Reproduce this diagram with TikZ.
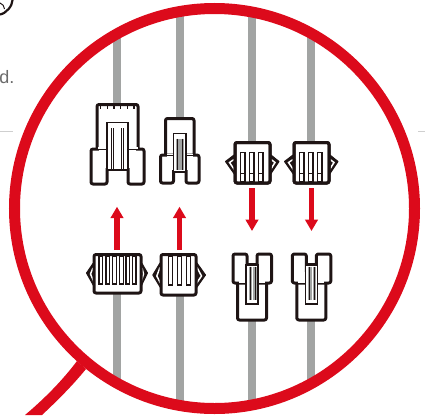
\documentclass[tikz,border=0pt]{standalone}
\usepackage{fontspec}
\setmainfont{Liberation Sans}
\usetikzlibrary{arrows.meta}
\definecolor{ink}{HTML}{1E1414}
\definecolor{redc}{HTML}{DC0A1B}
\definecolor{wire}{HTML}{A2A4A3}
\definecolor{rulec}{HTML}{CFCFCF}
\tikzset{
 wireline/.style={draw=wire,line width=8pt},
 thick ink/.style={draw=ink,line width=3pt,rounded corners=2pt,line join=round},
 conn/.style={thick ink,fill=white},
 thin ink/.style={draw=ink,line width=1.1pt},
 rib/.style={draw=ink,line width=1.1pt,fill=white},
 flow/.style={draw=redc,line width=5.3pt,-{Triangle[length=11.5pt,width=12.5pt]}},
 wing/.style={fill=ink,draw=ink,line width=1pt,line join=round},
 wingin/.style={draw=white,line width=1.5pt},
}
\newcommand{\wingpair}[6]{% left body, right body, left tip, right tip, y top, y tip
 \filldraw[wing] (#1,#5) -- (#3,#6) -- (#1+1,#6+13.5) -- cycle;
 \filldraw[wing] (#2,#5) -- (#4,#6) -- (#2-1,#6+13.5) -- cycle;
 \draw[wingin] (#1,#5+4.5) -- (#3+4,#6+1) -- (#1+1,#6+9);
 \draw[wingin] (#2,#5+4.5) -- (#4-4,#6+1) -- (#2-1,#6+9);
}
\begin{document}
\begin{tikzpicture}[x=1pt,y=-1pt]
\useasboundingbox (0,0) rectangle (425,415);
% page remnants
\draw[rulec,line width=1.1pt] (0,131.7) -- (13,131.7);
\draw[rulec,line width=1.1pt] (418,131.7) -- (425,131.7);
\begin{scope}
\clip (0,0) rectangle (425,415);
\node[anchor=base east,inner sep=0pt,text=black!58,font=\fontsize{18}{18}\selectfont] (txt) at (14.5,83) {d.};
\draw[ink,line width=2.2pt] (0,14.5) .. controls (6,13.5) and (12.5,6) .. (12.5,0);
\draw[ink,line width=1pt] (0,3) .. controls (3,4) and (4,6) .. (4.5,9);
\end{scope}
% wires
\draw[wireline] (117,34) -- (117,110);
\draw[wireline] (117,285) -- (117,383);
\draw[wireline] (180,12) -- (180,125);
\draw[wireline] (180,285) -- (180,405);
\draw[wireline] (252,12) -- (252,150);
\draw[wireline] (252,310) -- (252,405);
\draw[wireline] (311,34) -- (311,150);
\draw[wireline] (311,310) -- (311,383);
% C1 large plug
\filldraw[conn] (97,160) -- (97,104.5) -- (138,104.5) -- (138,160) -- cycle;
\foreach \t in {100.7,107.3,114,120.7,127.3,134} \draw[ink,line width=1.2pt] (\t,105) -- (\t,108.5);
\filldraw[conn] (107,149) -- (91,149) -- (91,184) -- (107,184) -- (107,149);
\filldraw[conn] (128,149) -- (144,149) -- (144,184) -- (128,184) -- (128,149);
\fill[white] (97.5,147) rectangle (137.5,148.5);
\fill[white] (99,150) rectangle (136,168);
\draw[ink,line width=1pt] (98,149) -- (107,149) (128,149) -- (137,149);
\draw[thin ink,fill=white] (107,122.5) rectangle (128,170);
\draw[ink,line width=1pt] (111.7,128) -- (111.7,169) (113.5,128) -- (113.5,169) (121,128) -- (121,169) (123.3,128) -- (123.3,169);
\draw[ink,line width=2.6pt] (107,170) -- (128,170);
% C2 small plug
\filldraw[conn] (165.5,165) -- (165.5,118.5) -- (194,118.5) -- (194,165) -- cycle;
\filldraw[conn] (173.5,155) -- (160.5,155) -- (160.5,183) -- (173.5,183) -- (173.5,155);
\filldraw[conn] (186,155) -- (199,155) -- (199,183) -- (186,183) -- (186,155);
\fill[white] (167,154) rectangle (192.5,170);
\draw[ink,line width=1pt] (167,155) -- (173,155) (186,155) -- (193,155);
\draw[thin ink,fill=white] (173.5,133.5) rectangle (186,172);
\fill[wire] (176,138.5) rectangle (184,170);
\draw[ink,line width=0.8pt] (177.5,138.5) -- (177.5,170) (182.5,138.5) -- (182.5,170);
\draw[ink,line width=2.6pt] (173.5,172) -- (186,172);
% C3, C4
\foreach \dx in {0,59} {
 \begin{scope}[xshift=\dx pt]
 \wingpair{234}{271}{225.5}{279}{155}{161.5}
 \filldraw[conn] (235,142.5) rectangle (270,183);
 \foreach \a/\b in {240.7/245,249.5/254,258.5/263} {
  \draw[rib] (\a,152.5) rectangle (\b,182);
  \draw[ink,line width=0.9pt] (\a,173.3) -- (\b,173.3);
 }
 \draw[thick ink,fill=none] (235,142.5) rectangle (270,183);
 \end{scope}
}
% C5
\wingpair{93}{142}{86.5}{147.5}{263.5}{273}
\filldraw[conn] (94,254.5) rectangle (141,293);
\foreach \a/\b in {99/102.3,106/109.3,112.7/116.5,119.7/123.3,126/129.3,132.3/136} \draw[rib] (\a,256) rectangle (\b,284);
% C6
\wingpair{160}{197}{152.8}{205.5}{263}{275}
\filldraw[conn] (161,254.5) rectangle (196,295);
\foreach \a/\b in {168.3/172.7,177.3/181.7,186.7/190.7} \draw[rib] (\a,256) rectangle (\b,285);
% C7, C8
\foreach \dx in {0,59.3} {
 \begin{scope}[xshift=\dx pt]
 \filldraw[conn] (237.5,275) -- (237.5,320) -- (266.5,320) -- (266.5,275) -- cycle;
 \filldraw[conn] (247,283) -- (233,283) -- (233,254) -- (247,254) -- (247,283);
 \filldraw[conn] (257,283) -- (271.5,283) -- (271.5,254) -- (257,254) -- (257,283);
 \fill[white] (239,272) rectangle (265,284);
 \draw[ink,line width=1pt] (239,283) -- (247,283) (257,283) -- (265,283);
 \draw[thin ink,fill=white] (246,264.5) rectangle (258,304);
 \fill[wire] (248.5,266.5) rectangle (256.5,300);
 \draw[ink,line width=0.8pt] (250,266.5) -- (250,300) (255,266.5) -- (255,300);
 \draw[white,line width=0.6pt] (252.5,266.5) -- (252.5,300);
 \draw[ink,line width=2.6pt] (246.5,264.5) -- (257.5,264.5);
 \end{scope}
}
% arrows
\draw[flow] (117,250) -- (117,206.7);
\draw[flow] (179.5,250) -- (179.5,206.7);
\draw[flow] (252,188.3) -- (252,231);
\draw[flow] (311.5,188.3) -- (311.5,231);
% magnifier
\draw[redc,line width=11pt] (214.5,208.5) circle (200);
\fill[redc] (77,361) .. controls (62,381) and (44,399) .. (25,415) -- (42,415) .. controls (58,400) and (73,385) .. (86,369) -- cycle;
\end{tikzpicture}
\end{document}
